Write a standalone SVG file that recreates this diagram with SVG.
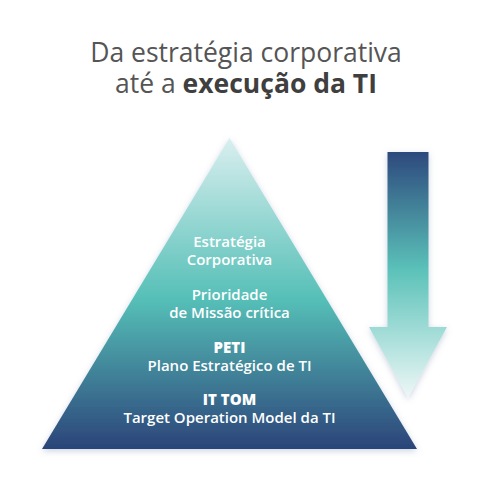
<svg xmlns="http://www.w3.org/2000/svg" width="500" height="500" viewBox="0 0 500 500">
<defs>
<linearGradient id="gp" x1="0" y1="138" x2="0" y2="449" gradientUnits="userSpaceOnUse">
<stop offset="0" stop-color="#d9efef"/>
<stop offset="0.52" stop-color="#55bfb7"/>
<stop offset="1" stop-color="#2b4479"/>
</linearGradient>
<linearGradient id="ga" x1="0" y1="152" x2="0" y2="398" gradientUnits="userSpaceOnUse">
<stop offset="0" stop-color="#2d497d"/>
<stop offset="0.48" stop-color="#5bc2b9"/>
<stop offset="1" stop-color="#eef8f7"/>
</linearGradient>
<filter id="sh" x="-20%" y="-20%" width="140%" height="140%">
<feDropShadow dx="0" dy="2" stdDeviation="3" flood-color="#6c7fa8" flood-opacity="0.35"/>
</filter>
<style>
.t{font-family:"Open Sans","Noto Sans",sans-serif;text-anchor:middle}
.title{font-size:26.5px;fill:#555555;font-weight:500}
.b{font-weight:700;fill:#3f3f3f}
.p{font-size:15px;fill:#ffffff;font-weight:600}
.pb{font-weight:800}
</style>
</defs>
<g id="title" class="t title">
<text x="246" y="62">Da estratégia corporativa</text>
<text x="246" y="93">até a <tspan class="b">execução da TI</tspan></text>
</g>
<g id="arrow">
<polygon points="387.5,152 428.5,152 428.5,327 447,327 408,398 369,327 387.5,327" fill="url(#ga)" filter="url(#sh)"/>
</g>
<g id="pyramid">
<polygon points="229.5,138 417,449 42,449" fill="#ffffff" stroke="#ffffff" stroke-width="16" stroke-linejoin="miter"/>
<polygon points="229.5,138 417,449 42,449" fill="url(#gp)" filter="url(#sh)"/>
</g>
<g id="level1" class="t p">
<text x="229.5" y="247">Estratégia</text>
<text x="229.5" y="264.5">Corporativa</text>
</g>
<g id="level2" class="t p">
<text x="229.5" y="300">Prioridade</text>
<text x="229.5" y="318">de Missão crítica</text>
</g>
<g id="level3" class="t p">
<text x="229.5" y="353" class="pb">PETI</text>
<text x="229.5" y="371">Plano Estratégico de TI</text>
</g>
<g id="level4" class="t p">
<text x="229.5" y="405" class="pb">IT TOM</text>
<text x="229.5" y="423">Target Operation Model da TI</text>
</g>
</svg>
